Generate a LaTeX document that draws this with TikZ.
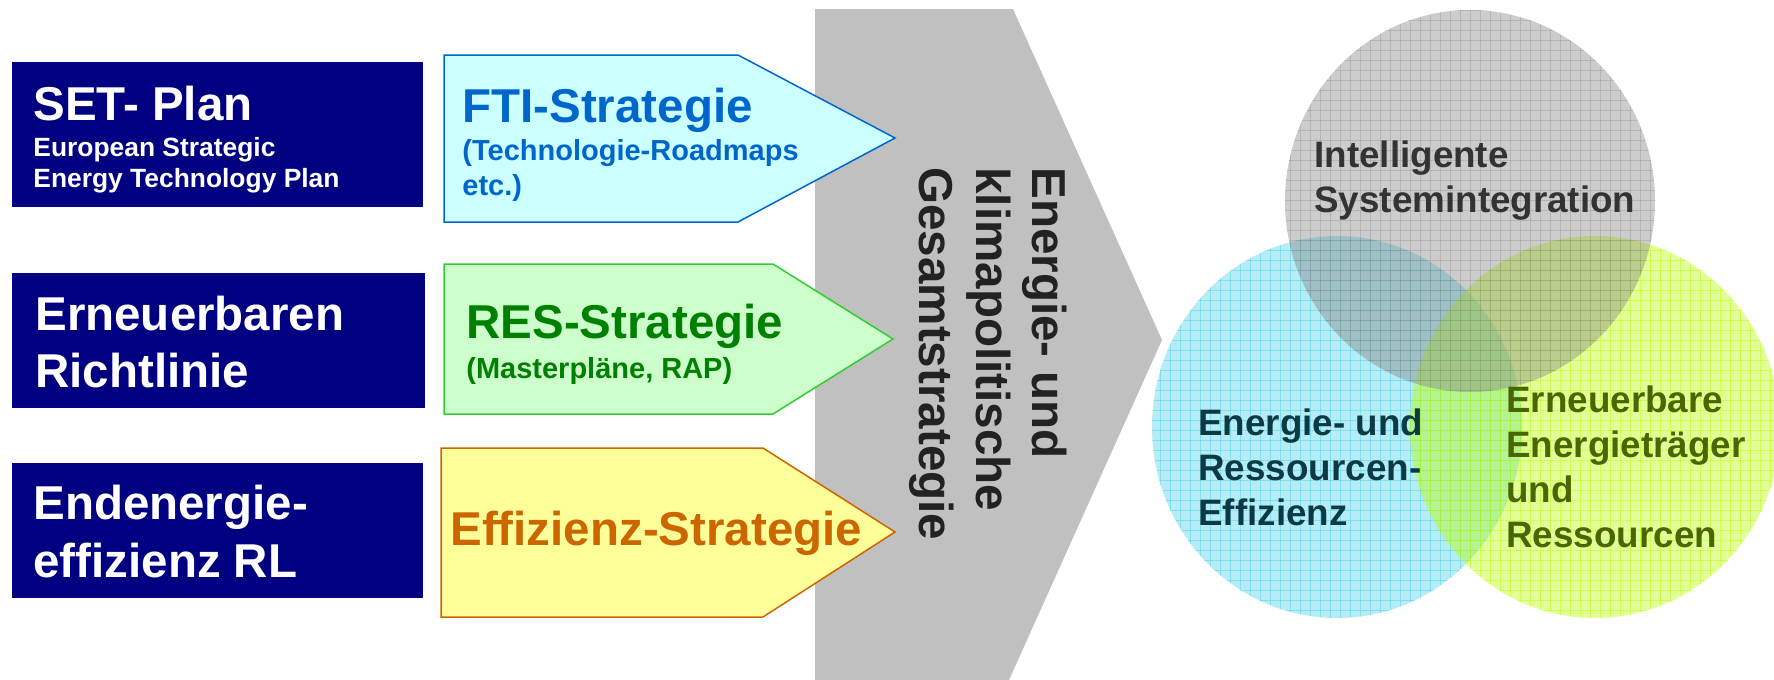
\documentclass[tikz,border=0pt]{standalone}
\usepackage{fontspec}
\setmainfont{Liberation Sans}
\definecolor{navy}{HTML}{000080}
\definecolor{ftiblue}{HTML}{0066CC}
\definecolor{ftifill}{HTML}{CCFFFF}
\definecolor{resgreen}{HTML}{008000}
\definecolor{resline}{HTML}{33CC33}
\definecolor{resfill}{HTML}{CCFFCC}
\definecolor{effor}{HTML}{CC6600}
\definecolor{efffill}{HTML}{FFFF99}
\definecolor{chev}{HTML}{C0C0C0}
\definecolor{cgray}{rgb}{0.5,0.5,0.5}
\definecolor{cblue}{rgb}{0.275,0.81,0.9}
\definecolor{cgreen}{rgb}{0.715,1,0}
\definecolor{tgray}{HTML}{333333}
\definecolor{tteal}{HTML}{0B3A45}
\definecolor{tolive}{HTML}{4A6600}
\definecolor{vtext}{HTML}{222222}
\begin{document}
\begin{tikzpicture}[x=0.5pt,y=-0.5pt,
  bigtxt/.style={anchor=base west, inner sep=0, font=\bfseries\fontsize{23.75}{28}\selectfont},
  setsub/.style={anchor=base west, inner sep=0, font=\bfseries\fontsize{13.2}{15}\selectfont},
  ftisub/.style={anchor=base west, inner sep=0, font=\bfseries\fontsize{14.5}{17}\selectfont},
  circtxt/.style={anchor=base west, inner sep=0, font=\bfseries\fontsize{18.4}{22}\selectfont},
  verttxt/.style={anchor=base west, inner sep=0, rotate=-90, text=vtext, font=\bfseries\fontsize{23.8}{28}\selectfont},
  navybox/.style={fill=navy},
  gridline/.style={line width=0.5pt, draw opacity=0.45}
]
\useasboundingbox (0,0) rectangle (1774,680);

% grey chevron
\fill[chev] (815,9) -- (1013,9) -- (1162,340) -- (1009,680) -- (815,680) -- cycle;

% left boxes
\fill[navybox] (12,62) rectangle (423,207);
\fill[navybox] (12,273) rectangle (425,408);
\fill[navybox] (12,463) rectangle (423,598);

\node[bigtxt, text=white] (set1) at (33,120) {SET- Plan};
\node[setsub, text=white] (set2) at (33,156) {European Strategic};
\node[setsub, text=white] (set3) at (33,187) {Energy Technology Plan};
\node[bigtxt, text=white] (ee1) at (35,330) {Erneuerbaren};
\node[bigtxt, text=white] (ee2) at (35,387) {Richtlinie};
\node[bigtxt, text=white] (end1) at (33,519) {Endenergie-};
\node[bigtxt, text=white] (end2) at (33,577) {effizienz RL};

% strategy arrows
\filldraw[fill=ftifill, draw=ftiblue, line width=0.75pt, line join=miter]
  (444,55) -- (738,55) -- (895,138) -- (738,222) -- (444,222) -- cycle;
\filldraw[fill=resfill, draw=resline, line width=0.75pt, line join=miter]
  (444,264) -- (773,264) -- (893,339) -- (773,414) -- (444,414) -- cycle;
\filldraw[fill=efffill, draw=effor, line width=0.75pt, line join=miter]
  (441,448) -- (763,448) -- (895,532) -- (763,617) -- (441,617) -- cycle;

\node[bigtxt, text=ftiblue] (fti1) at (462,122) {FTI-Strategie};
\node[ftisub, text=ftiblue] (fti2) at (462,160) {(Technologie-Roadmaps};
\node[ftisub, text=ftiblue] (fti3) at (462,195) {etc.)};
\node[bigtxt, text=resgreen] (res1) at (466,338) {RES-Strategie};
\node[ftisub, text=resgreen] (res2) at (466,378) {(Masterpläne, RAP)};
\node[bigtxt, text=effor] (eff) at (450,545) {Effizienz-Strategie};

% vertical text
\node[verttxt] (v1) at (1032,167) {Energie- und};
\node[verttxt] (v2) at (976,167) {klimapolitische};
\node[verttxt] (v3) at (919,167) {Gesamtstrategie};

% circles
\begin{scope}
  \fill[cblue, fill opacity=0.4] (1337,427) ellipse [x radius=185, y radius=191];
  \clip (1337,427) ellipse [x radius=185, y radius=191];
  \foreach \gx in {1150,1160,...,1530} \draw[cblue, gridline] (\gx,230) -- (\gx,625);
  \foreach \gy in {240,250,...,620} \draw[cblue, gridline] (1145,\gy) -- (1530,\gy);
\end{scope}
\begin{scope}
  \fill[cgreen, fill opacity=0.4] (1595,427) ellipse [x radius=185, y radius=191];
  \clip (1595,427) ellipse [x radius=185, y radius=191];
  \foreach \gx in {1410,1420,...,1780} \draw[cgreen, gridline] (\gx,230) -- (\gx,625);
  \foreach \gy in {240,250,...,620} \draw[cgreen, gridline] (1405,\gy) -- (1785,\gy);
\end{scope}
\begin{scope}
  \fill[cgray, fill opacity=0.4] (1470,201) ellipse [x radius=185, y radius=191];
  \clip (1470,201) ellipse [x radius=185, y radius=191];
  \foreach \gx in {1290,1300,...,1660} \draw[cgray, gridline, draw opacity=0.3] (\gx,5) -- (\gx,398);
  \foreach \gy in {10,20,...,390} \draw[cgray, gridline, draw opacity=0.3] (1280,\gy) -- (1660,\gy);
\end{scope}

\node[circtxt, text=tgray] (int1) at (1314,167) {Intelligente};
\node[circtxt, text=tgray] (int2) at (1314,212) {Systemintegration};
\node[circtxt, text=tteal] (eff1) at (1198,435) {Energie- und};
\node[circtxt, text=tteal] (eff2) at (1198,480) {Ressourcen-};
\node[circtxt, text=tteal] (eff3) at (1198,525) {Effizienz};
\node[circtxt, text=tolive] (ern1) at (1506,412) {Erneuerbare};
\node[circtxt, text=tolive] (ern2) at (1506,457) {Energieträger};
\node[circtxt, text=tolive] (ern3) at (1506,502) {und};
\node[circtxt, text=tolive] (ern4) at (1506,547) {Ressourcen};
\end{tikzpicture}
\end{document}
